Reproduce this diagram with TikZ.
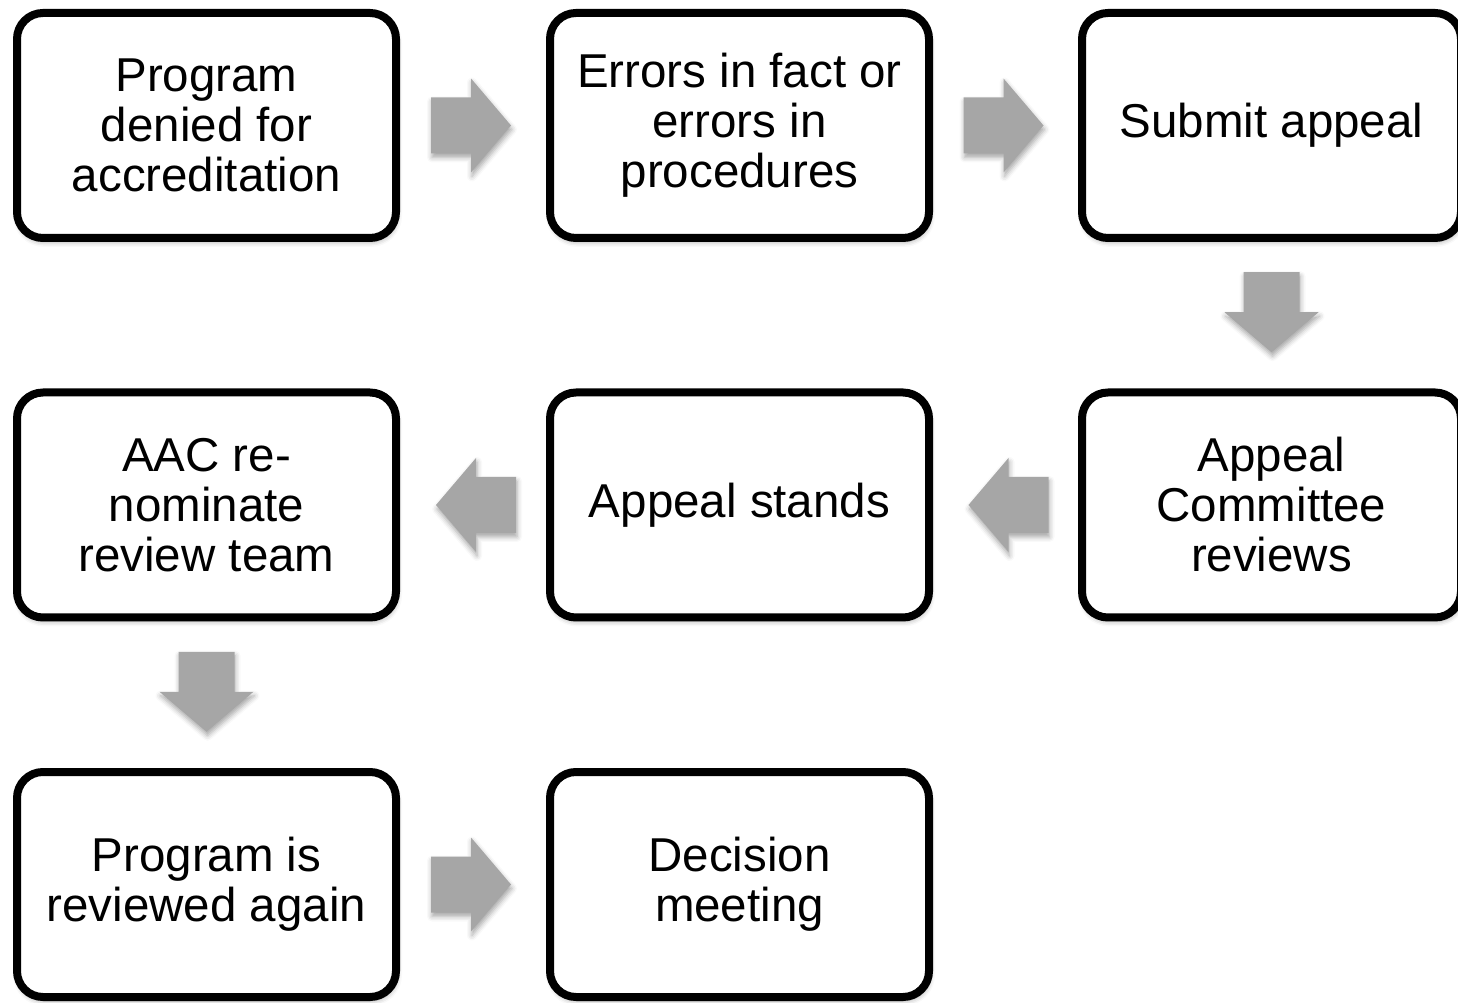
\documentclass[tikz,border=0pt]{standalone}
\usepackage{fontspec}
\setmainfont{Liberation Sans}
\usetikzlibrary{calc,shadows.blur}
\definecolor{arrowgray}{RGB}{166,166,166}
\begin{document}
\begin{tikzpicture}[x=1pt,y=1pt,
  softshadow/.style={blur shadow={shadow xshift=1pt, shadow yshift=-4pt,
      shadow blur radius=5pt, shadow opacity=35}},
  stepbox/.style={draw=black, line width=8pt, rounded corners=26pt, fill=white,
      minimum width=379pt, minimum height=225pt, inner sep=0pt, align=center,
      font=\fontsize{47.5}{50}\selectfont, softshadow},
  blockarrow/.pic={
    \fill[arrowgray, softshadow]
      (-40,-28) -- (0,-28) -- (0,-47) -- (40,0) -- (0,47) -- (0,28) -- (-40,28) -- cycle;
  }]
\useasboundingbox (0,0) rectangle (1458,1002);

% first row
\node[stepbox] (denied) at (206.5,876.5) {Program\\denied for\\accreditation};
\node[stepbox] (errors) at (739.5,876.5) {Errors in fact or\\errors in\\procedures};
\node[stepbox] (submit) at (1271.5,876.5) {Submit appeal};
% second row
\node[stepbox] (committee) at (1271.5,497) {Appeal\\Committee\\reviews};
\node[stepbox] (stands) at (739.5,497) {Appeal stands};
\node[stepbox] (aac) at (206.5,497) {AAC re-\\nominate\\review team};
% third row
\node[stepbox] (again) at (206.5,117.5) {Program is\\reviewed again};
\node[stepbox] (decision) at (739.5,117.5) {Decision\\meeting};

% block arrows between the steps
\pic at ($(denied.east)!0.5!(errors.west)+(-2,0)$) {blockarrow};
\pic at ($(errors.east)!0.5!(submit.west)+(-2,0)$) {blockarrow};
\pic[rotate=-90] at ($(submit.south)!0.5!(committee.north)+(0,3)$) {blockarrow};
\pic[rotate=180] at ($(committee.west)!0.5!(stands.east)+(3,0)$) {blockarrow};
\pic[rotate=180] at ($(stands.west)!0.5!(aac.east)+(3,0)$) {blockarrow};
\pic[rotate=-90] at ($(aac.south)!0.5!(again.north)+(0,3)$) {blockarrow};
\pic at ($(again.east)!0.5!(decision.west)+(-2,0)$) {blockarrow};
\end{tikzpicture}
\end{document}
